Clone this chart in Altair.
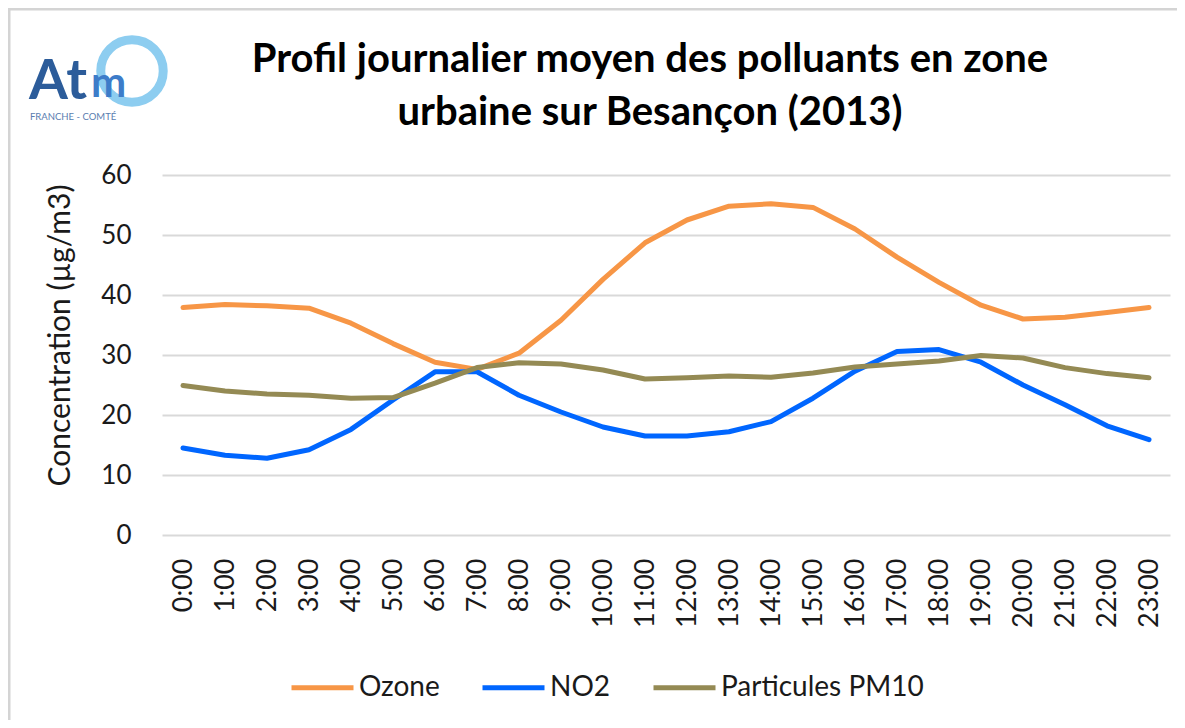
import altair as alt
import pandas as pd

hours = ["0:00", "1:00", "2:00", "3:00", "4:00", "5:00", "6:00", "7:00", "8:00", "9:00",
         "10:00", "11:00", "12:00", "13:00", "14:00", "15:00", "16:00", "17:00", "18:00",
         "19:00", "20:00", "21:00", "22:00", "23:00"]

ozone = [37.9, 38.4, 38.2, 37.8, 35.3, 31.9, 28.8, 27.6, 30.3, 35.8, 42.6, 48.7,
         52.5, 54.8, 55.2, 54.6, 51.0, 46.3, 42.1, 38.3, 36.0, 36.3, 37.1, 37.9]
no2 = [14.5, 13.3, 12.8, 14.2, 17.6, 22.5, 27.2, 27.2, 23.3, 20.5, 18.0, 16.5,
       16.5, 17.2, 18.9, 22.8, 27.3, 30.6, 30.9, 28.8, 25.0, 21.7, 18.2, 15.9]
pm10 = [24.9, 24.0, 23.5, 23.3, 22.8, 22.9, 25.3, 27.9, 28.7, 28.5, 27.5, 26.0,
        26.2, 26.5, 26.3, 27.0, 28.0, 28.5, 29.0, 29.9, 29.5, 27.9, 26.9, 26.2]

series_names = ["Ozone", "NO2", "Particules PM10"]
series_colors = ["#F79646", "#0066FF", "#948A54"]

title_lines = ["Profil journalier moyen des polluants en zone",
               "urbaine sur Besançon (2013)"]
y_title = "Concentration (µg/m3)"
y_ticks = [0, 10, 20, 30, 40, 50, 60]

rows = []
for name, vals in zip(series_names, [ozone, no2, pm10]):
    for h, v in zip(hours, vals):
        rows.append({"heure": h, "valeur": v, "polluant": name})
df = pd.DataFrame(rows)

FONT = "Lato"
TXT = "#1a1a1a"

lines = alt.Chart(df).mark_line(strokeWidth=5, strokeCap="round", strokeJoin="round").encode(
    x=alt.X("heure:O", sort=hours, title=None,
            axis=alt.Axis(labelAngle=270, labelFontSize=27, labelFont=FONT, labelColor=TXT,
                          labelPadding=23, ticks=False, domain=False, grid=False)),
    y=alt.Y("valeur:Q", scale=alt.Scale(domain=[0, 60], nice=False), title=y_title,
            axis=alt.Axis(values=y_ticks, labelFontSize=26, labelFont=FONT, labelColor=TXT,
                          labelPadding=31, ticks=False, tickSize=0, domain=False,
                          gridColor="#D9D9D9", gridWidth=2,
                          titleFont=FONT, titleFontSize=30, titleFontWeight="normal",
                          titleColor=TXT, titleX=-102, titleY=160, titleBaseline="middle")),
    color=alt.Color("polluant:N", sort=series_names,
                    scale=alt.Scale(domain=series_names, range=series_colors),
                    legend=alt.Legend(orient="none", legendX=127, legendY=479,
                                      direction="horizontal", title=None,
                                      symbolType="stroke", symbolSize=3844,
                                      symbolStrokeWidth=5, labelFontSize=28,
                                      labelFont=FONT, labelColor=TXT, labelOffset=3,
                                      labelLimit=0, columnPadding=32, padding=0)),
)

one = pd.DataFrame({"k": [0]})

title1 = alt.Chart(one).mark_text(font=FONT, fontWeight="bold", fontSize=40, color="#000000",
                                  align="center", baseline="alphabetic").encode(
    x=alt.value(488), y=alt.value(-103), text=alt.value(title_lines[0]))
title2 = alt.Chart(one).mark_text(font=FONT, fontWeight="bold", fontSize=40, color="#000000",
                                  align="center", baseline="alphabetic").encode(
    x=alt.value(488), y=alt.value(-50), text=alt.value(title_lines[1]))

# frame lines (screenshot border)
frame_top = alt.Chart(one).mark_rule(color="#D4D4D4", strokeWidth=3).encode(
    x=alt.value(-154), x2=alt.value(1015), y=alt.value(-166))
frame_left = alt.Chart(one).mark_rule(color="#D4D4D4", strokeWidth=3).encode(
    x=alt.value(-153), y=alt.value(-167), y2=alt.value(545))

# logo
ring = alt.Chart(one).mark_point(shape="circle", filled=False, size=3900, strokeWidth=9,
                                 color="#8DCDF0", opacity=1).encode(
    x=alt.value(-30), y=alt.value(-104))
logo_at = alt.Chart(one).mark_text(font=FONT, fontWeight="bold", fontSize=56, color="#2C5C9A",
                                   align="left", baseline="alphabetic").encode(
    x=alt.value(-133), y=alt.value(-76), text=alt.value("At"))
logo_m = alt.Chart(one).mark_text(font=FONT, fontWeight="bold", fontSize=42, color="#3D7CC9",
                                  align="left", baseline="alphabetic").encode(
    x=alt.value(-71), y=alt.value(-78), text=alt.value("m"))
logo_fc = alt.Chart(one).mark_text(font=FONT, fontSize=9.5, color="#5A7DB0",
                                   align="left", baseline="middle").encode(
    x=alt.value(-132), y=alt.value(-58), text=alt.value("FRANCHE  -  COMTÉ"))

chart = alt.layer(frame_top, frame_left, lines, title1, title2, ring, logo_at, logo_m, logo_fc).properties(
    width=1008, height=360,
    padding={"left": 154, "top": 167, "right": 7, "bottom": 185},
    autosize=alt.AutoSizeParams(type="none"),
    background="#FFFFFF",
).configure_view(stroke=None)

chart.save("out.html", embed_options={"renderer": "svg", "actions": False})
